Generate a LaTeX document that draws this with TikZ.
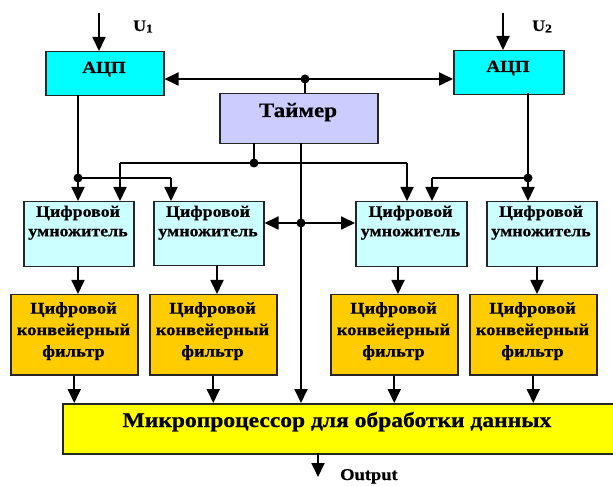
\documentclass[tikz,border=0pt]{standalone}
\usepackage{fontspec}
\newfontfamily\dfont{Liberation Serif}[FakeStretch=1.12, BoldFeatures={FakeBold=0.6}]
\usetikzlibrary{arrows.meta,calc}
\definecolor{adcc}{HTML}{00FFFF}
\definecolor{timc}{HTML}{CCCCFF}
\definecolor{mulc}{HTML}{CCFFFF}
\definecolor{filc}{HTML}{FFCC00}
\definecolor{mpc}{HTML}{FFFF00}
\tikzset{
  box/.style={draw=black!85, line width=1.5pt, inner sep=0pt, anchor=north west},
  lbl/.style={inner sep=0pt, text=black, align=center},
  conn/.style={line width=1.8pt},
  arr/.style={line width=1.8pt, -{Triangle[length=14pt,width=13pt]}},
  dot/.style={circle, fill=black, inner sep=0pt, minimum size=9pt},
}
\begin{document}
\begin{tikzpicture}[x=1pt,y=-1pt]
\clip (0,0) rectangle (613,486);
\fill[white] (0,0) rectangle (613,486);
% boxes
\node[box, fill=adcc, minimum width=118pt, minimum height=44pt] (adc1) at (45,51) {};
\node[box, fill=adcc, minimum width=110pt, minimum height=44pt] (adc2) at (453,50) {};
\node[box, fill=timc, minimum width=158pt, minimum height=50pt] (tim) at (219,93) {};
\node[box, fill=mulc, minimum width=110pt, minimum height=65pt] (m1) at (23,201) {};
\node[box, fill=mulc, minimum width=110pt, minimum height=64pt] (m2) at (153,201) {};
\node[box, fill=mulc, minimum width=111pt, minimum height=65pt] (m3) at (355,201) {};
\node[box, fill=mulc, minimum width=110pt, minimum height=65pt] (m4) at (486,201) {};
\node[box, fill=filc, minimum width=127pt, minimum height=80pt] (f1) at (10,294) {};
\node[box, fill=filc, minimum width=127pt, minimum height=80pt] (f2) at (149,294) {};
\node[box, fill=filc, minimum width=127pt, minimum height=80pt] (f3) at (330,294) {};
\node[box, fill=filc, minimum width=127pt, minimum height=80pt] (f4) at (469,294) {};
\node[box, fill=mpc, minimum width=560pt, minimum height=50pt] (mp) at (62,403) {};
% texts
\node[lbl, anchor=base, font=\dfont\bfseries\fontsize{17}{19}\selectfont] (adc1t) at (104,73) {АЦП};
\node[lbl, anchor=base, font=\dfont\bfseries\fontsize{17}{19}\selectfont] (adc2t) at (508,72) {АЦП};
\node[lbl, anchor=base, font=\dfont\bfseries\fontsize{20.5}{22}\selectfont] (timt) at (298,117) {Таймер};
\foreach \n/\x in {m1/78, m2/208, m3/410.5, m4/541}{
  \node[lbl, anchor=north, font=\dfont\bfseries\fontsize{16}{19.5}\selectfont] (\n t) at (\x,205.5) {Цифровой\\умножитель};
}
\foreach \n/\x in {f1/73.5, f2/212.5, f3/393.5, f4/532.5}{
  \node[lbl, anchor=north, font=\dfont\bfseries\fontsize{16.5}{21.5}\selectfont] (\n t) at (\x,302) {Цифровой\\конвейерный\\фильтр};
}
\node[lbl, anchor=base, font=\dfont\bfseries\fontsize{21}{23}\selectfont] (mpt) at (337,427) {Микропроцессор для обработки данных};
\node[lbl, anchor=base west, font=\dfont\bfseries\fontsize{16.5}{17}\selectfont] (outt) at (340,480) {Output};
\node[lbl, anchor=base west, font=\dfont\bfseries\fontsize{16}{17}\selectfont] (u1t) at (133,31) {U\raisebox{-1.5pt}{\fontsize{12}{12}\selectfont 1}};
\node[lbl, anchor=base west, font=\dfont\bfseries\fontsize{16}{17}\selectfont] (u2t) at (532,31) {U\raisebox{-1.5pt}{\fontsize{12}{12}\selectfont 2}};
% coordinates
\coordinate (u1in) at (99,13);
\coordinate (u2in) at (503,13);
\coordinate (busj) at (305,79);
\coordinate (a1out) at (78,95);
\coordinate (a1j) at (78,178);
\coordinate (a1r) at (171,178);
\coordinate (a2out) at (528,93);
\coordinate (a2j) at (528,178);
\coordinate (a2l) at (432,178);
\coordinate (tout) at (254,143);
\coordinate (tj) at (254,163);
\coordinate (tl) at (120,163);
\coordinate (tr) at (407,163);
\coordinate (tc) at (301,143);
\coordinate (cj) at (301,223);
\coordinate (mpo) at (318,453);
\coordinate (outp) at (318,477);
% inputs
\draw[arr] (u1in) -- (u1in |- adc1.north);
\draw[arr] (u2in) -- (u2in |- adc2.north);
% timer bus
\draw[arr] (busj) -- (busj -| adc1.east);
\draw[arr] (busj) -- (busj -| adc2.west);
\draw[conn] (busj) -- (busj |- tim.north);
% ADC1 outputs
\draw[conn] (a1out) -- (a1j);
\draw[arr] (a1j) -- (a1j |- m1.north);
\draw[conn] (a1j) -- (a1r);
\draw[arr] (a1r) -- (a1r |- m2.north);
% ADC2 outputs
\draw[conn] (a2out) -- (a2j);
\draw[arr] (a2j) -- (a2j |- m4.north);
\draw[conn] (a2j) -- (a2l);
\draw[arr] (a2l) -- (a2l |- m3.north);
% timer to multipliers
\draw[conn] (tout) -- (tj);
\draw[conn] (tl) -- (tr);
\draw[arr] (tl) -- (tl |- m1.north);
\draw[arr] (tr) -- (tr |- m3.north);
% timer centre line
\draw[arr] (tc) -- (tc |- mp.north);
\draw[arr] (cj) -- (cj -| m2.east);
\draw[arr] (cj) -- (cj -| m3.west);
% multipliers to filters
\foreach \m/\f/\x in {m1/f1/78, m2/f2/217, m3/f3/398, m4/f4/537}{
  \draw[arr] (\x,0 |- \m.south) -- (\x,0 |- \f.north);
}
% filters to MP
\foreach \f in {f1,f2,f3,f4}{
  \draw[arr] (\f.south) -- (\f.south |- mp.north);
}
% output
\draw[arr] (mpo) -- (outp);
% dots
\node[dot] (d1) at (busj) {};
\node[dot] (d2) at (a1j) {};
\node[dot] (d3) at (a2j) {};
\node[dot] (d4) at (tj) {};
\node[dot] (d5) at (cj) {};
\end{tikzpicture}
\end{document}
